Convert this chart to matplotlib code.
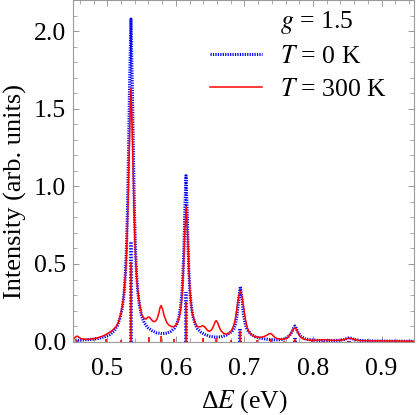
import matplotlib
matplotlib.use("Agg")
import matplotlib.pyplot as plt
from matplotlib.lines import Line2D

plt.rcParams['font.family'] = ['Liberation Serif', 'DejaVu Serif']
plt.rcParams['mathtext.fontset'] = 'stix'

# ----- DATA -----
# T = 0 K spectrum
blue_x = [0.450, 0.462, 0.474, 0.486, 0.496, 0.504, 0.510, 0.5145, 0.5185, 0.522,
          0.5245, 0.5265, 0.528, 0.5295, 0.531, 0.5325, 0.5345, 0.5365, 0.538, 0.5395,
          0.541, 0.5425, 0.5445, 0.547, 0.550, 0.554, 0.559, 0.565, 0.572, 0.580,
          0.587, 0.593, 0.598, 0.6015, 0.6045, 0.607, 0.609, 0.6105, 0.6118, 0.613,
          0.6148, 0.6165, 0.6178, 0.619, 0.6205, 0.6225, 0.625, 0.628, 0.631, 0.636,
          0.642, 0.650, 0.658, 0.666, 0.673, 0.679, 0.684, 0.687, 0.6895, 0.6915,
          0.694, 0.6965, 0.6985, 0.701, 0.704, 0.709, 0.716, 0.725, 0.735, 0.745,
          0.753, 0.760, 0.765, 0.769, 0.7715, 0.7735, 0.7755, 0.778, 0.782, 0.788,
          0.797, 0.810, 0.825, 0.837, 0.845, 0.850, 0.853, 0.856, 0.861, 0.870,
          0.890, 0.920, 0.947]
blue_y = [0.006, 0.009, 0.012, 0.019, 0.030, 0.045, 0.068, 0.10, 0.15, 0.22,
          0.31, 0.45, 0.61, 0.86, 1.23, 1.65, 2.08, 1.65, 1.23, 0.86,
          0.61, 0.45, 0.32, 0.23, 0.165, 0.12, 0.09, 0.07, 0.056, 0.050,
          0.054, 0.066, 0.086, 0.115, 0.16, 0.23, 0.32, 0.45, 0.61, 0.84,
          1.07, 0.84, 0.61, 0.45, 0.32, 0.23, 0.16, 0.115, 0.085, 0.062,
          0.046, 0.033, 0.028, 0.030, 0.040, 0.055, 0.075, 0.115, 0.18, 0.27,
          0.355, 0.27, 0.18, 0.115, 0.075, 0.05, 0.03, 0.020, 0.013, 0.010,
          0.012, 0.020, 0.035, 0.060, 0.085, 0.10, 0.085, 0.060, 0.035, 0.018,
          0.010, 0.006, 0.005, 0.007, 0.012, 0.020, 0.025, 0.020, 0.012, 0.006,
          0.003, 0.002, 0.001]

# T = 300 K spectrum
red_x = [0.450, 0.4535, 0.456, 0.4585, 0.462, 0.468, 0.474, 0.480, 0.486, 0.492,
         0.498, 0.503, 0.508, 0.5125, 0.516, 0.519, 0.5215, 0.5235, 0.5255, 0.527,
         0.5285, 0.530, 0.5315, 0.533, 0.5345, 0.536, 0.5375, 0.539, 0.5405, 0.542,
         0.5435, 0.546, 0.550, 0.5535, 0.5565, 0.5595, 0.5615, 0.5645, 0.5675, 0.570,
         0.5725, 0.575, 0.577, 0.5785, 0.5805, 0.583, 0.587, 0.5905, 0.5945, 0.598,
         0.601, 0.604, 0.6065, 0.6085, 0.610, 0.611, 0.612, 0.6133, 0.615, 0.6167,
         0.618, 0.619, 0.620, 0.6215, 0.6235, 0.6265, 0.629, 0.632, 0.6355, 0.6395,
         0.643, 0.646, 0.649, 0.652, 0.655, 0.6575, 0.659, 0.661, 0.6635, 0.666,
         0.670, 0.6735, 0.677, 0.681, 0.684, 0.6865, 0.6885, 0.6905, 0.692, 0.694,
         0.696, 0.6975, 0.6995, 0.7015, 0.704, 0.707, 0.7105, 0.7147, 0.719, 0.723,
         0.7275, 0.7325, 0.736, 0.738, 0.7405, 0.744, 0.748, 0.753, 0.758, 0.762,
         0.766, 0.769, 0.7715, 0.7735, 0.7755, 0.778, 0.781, 0.785, 0.792, 0.800,
         0.810, 0.8165, 0.822, 0.830, 0.840, 0.846, 0.850, 0.853, 0.856, 0.861,
         0.870, 0.885, 0.900, 0.920, 0.947]
red_y = [0.012, 0.028, 0.035, 0.028, 0.018, 0.014, 0.015, 0.018, 0.024, 0.032,
         0.045, 0.058, 0.074, 0.095, 0.12, 0.165, 0.22, 0.28, 0.37, 0.47,
         0.62, 0.85, 1.15, 1.42, 1.634, 1.42, 1.15, 0.85, 0.62, 0.47,
         0.37, 0.27, 0.175, 0.15, 0.145, 0.158, 0.157, 0.14, 0.128, 0.13,
         0.145, 0.18, 0.22, 0.232, 0.21, 0.165, 0.12, 0.103, 0.095, 0.097,
         0.11, 0.14, 0.19, 0.27, 0.37, 0.47, 0.60, 0.73, 0.87, 0.73,
         0.60, 0.47, 0.37, 0.27, 0.19, 0.14, 0.11, 0.095, 0.095, 0.102,
         0.09, 0.072, 0.065, 0.075, 0.10, 0.13, 0.134, 0.12, 0.09, 0.068,
         0.052, 0.047, 0.052, 0.07, 0.10, 0.14, 0.20, 0.26, 0.30, 0.325,
         0.30, 0.26, 0.20, 0.14, 0.09, 0.06, 0.042, 0.032, 0.028, 0.027,
         0.030, 0.040, 0.050, 0.052, 0.044, 0.028, 0.018, 0.014, 0.015, 0.022,
         0.040, 0.062, 0.082, 0.088, 0.080, 0.055, 0.033, 0.018, 0.010, 0.008,
         0.009, 0.012, 0.010, 0.007, 0.008, 0.013, 0.019, 0.022, 0.019, 0.011,
         0.006, 0.004, 0.004, 0.003, 0.002]

# stick spectra
blue_stick_x = [0.534, 0.6145, 0.694, 0.7735, 0.853]
blue_stick_h = [0.643, 0.32, 0.08, 0.02, 0.004]
red_stick_x = [0.456, 0.498, 0.5195, 0.534, 0.5605, 0.5785, 0.598, 0.6145, 0.6395,
               0.659, 0.68, 0.694, 0.718, 0.738, 0.758, 0.7735, 0.798, 0.8165, 0.853]
red_stick_h = [0.01, 0.015, 0.012, 0.51, 0.03, 0.035, 0.015, 0.257, 0.02,
               0.025, 0.01, 0.065, 0.008, 0.015, 0.006, 0.018, 0.005, 0.006, 0.005]

xticks = [0.5, 0.6, 0.7, 0.8, 0.9]
yticks = [0.0, 0.5, 1.0, 1.5, 2.0]

BLUE = '#0000ff'
RED = '#ff0000'
FRAME = '#9a9a9a'
dots = (0, (0.4, 0.4))

fig = plt.figure(figsize=(4.17, 4.15), dpi=100)
ax = fig.add_axes([73/417, 1 - 341.5/415, 340.5/417, 341/415])

ax.vlines(blue_stick_x, 0, blue_stick_h, colors=BLUE, linewidth=2.6, linestyles=[dots])
ax.plot(blue_x, blue_y, color=BLUE, linewidth=2.2, linestyle=dots)
ax.vlines(red_stick_x, 0, red_stick_h, colors=RED, linewidth=1.2)
ax.plot(red_x, red_y, color=RED, linewidth=1.1)

ax.set_xlim(0.45, 0.9465)
ax.set_ylim(0, 2.2)
ax.set_xticks(xticks)
ax.set_xticklabels([f"{t:.1f}" for t in xticks])
ax.set_yticks(yticks)
ax.set_yticklabels([f"{t:.1f}" for t in yticks])
ax.set_xticks([0.46 + 0.02 * i for i in range(25)], minor=True)
ax.set_yticks([0.1 * i for i in range(23)], minor=True)

ax.tick_params(which='both', direction='in', top=True, right=True, color=FRAME,
               labelcolor='black', labelsize=18.5)
ax.tick_params(which='major', length=4.5, width=0.7)
ax.tick_params(which='minor', length=2.6, width=0.6)
ax.tick_params(axis='x', pad=12)
ax.tick_params(axis='y', pad=5)
for s in ax.spines.values():
    s.set_color(FRAME)
    s.set_linewidth(0.8)

ax.set_xlabel("Δ$E$ (eV)", fontsize=18.5, va='baseline')
ax.xaxis.set_label_coords(0.502, -0.193)
ax.set_ylabel("Intensity (arb. units)", fontsize=19, va='baseline')
ax.yaxis.set_label_coords(-0.152, 0.44)

handles = [Line2D([], [], linestyle='none'),
           Line2D([], [], color=BLUE, linewidth=2.2, linestyle=dots),
           Line2D([], [], color=RED, linewidth=1.1)]
labels = ["$g$ = 1.5", "$T$ = 0 K", "$T$ = 300 K"]
ax.legend(handles, labels, loc='upper left', bbox_to_anchor=(0.373, 1.006),
          frameon=False, fontsize=18.5, handlelength=2.0, handletextpad=0.72,
          labelspacing=0.38, borderaxespad=0)

fig.savefig("out.png", dpi=100)
